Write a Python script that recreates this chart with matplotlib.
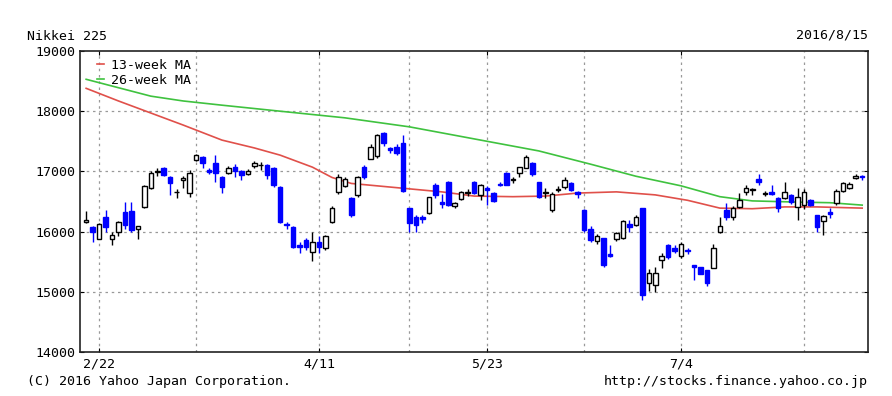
import matplotlib
matplotlib.use("Agg")
import matplotlib.pyplot as plt

# daily candles, Nikkei 225
dates = ["2/18", "2/19", "2/22", "2/23", "2/24", "2/25", "2/26", "2/29",
         "3/1", "3/2", "3/3", "3/4", "3/7", "3/8", "3/9", "3/10", "3/11",
         "3/14", "3/15", "3/16", "3/17", "3/18", "3/22", "3/23", "3/24", "3/25",
         "3/28", "3/29", "3/30", "3/31", "4/1", "4/4", "4/5", "4/6", "4/7", "4/8",
         "4/11", "4/12", "4/13", "4/14", "4/15", "4/18", "4/19", "4/20", "4/21", "4/22",
         "4/25", "4/26", "4/27", "4/28", "5/2", "5/6", "5/9", "5/10", "5/11", "5/12", "5/13",
         "5/16", "5/17", "5/18", "5/19", "5/20", "5/23", "5/24", "5/25", "5/26", "5/27",
         "5/30", "5/31", "6/1", "6/2", "6/3", "6/6", "6/7", "6/8", "6/9", "6/10",
         "6/13", "6/14", "6/15", "6/16", "6/17", "6/20", "6/21", "6/22", "6/23", "6/24",
         "6/27", "6/28", "6/29", "6/30", "7/1", "7/4", "7/5", "7/6", "7/7", "7/8",
         "7/11", "7/12", "7/13", "7/14", "7/15", "7/19", "7/20", "7/21", "7/22",
         "7/25", "7/26", "7/27", "7/28", "7/29", "8/1", "8/2", "8/3", "8/4", "8/5",
         "8/8", "8/9", "8/10", "8/12", "8/15"]
opens = [16160, 16080, 15880, 16240, 15870, 15990, 16330, 16340,
         16040, 16410, 16730, 16990, 17060, 16910, 16650, 16860, 16640,
         17190, 17240, 17030, 17140, 16910, 16970, 17070, 17000, 16960,
         17090, 17100, 17100, 17060, 16740, 16120, 16080, 15770, 15860, 15660,
         15820, 15720, 16160, 16650, 16750, 16560, 16610, 17070, 17210, 17250,
         17640, 17390, 17400, 17470, 16390, 16240, 16240, 16310, 16770, 16500, 16820,
         16420, 16540, 16640, 16820, 16610, 16720, 16640, 16790, 16970, 16850,
         16970, 17060, 17140, 16820, 16640, 16360, 16690, 16740, 16810, 16660,
         16360, 16050, 15850, 15890, 15620, 15870, 15890, 16120, 16110, 16390,
         15150, 15120, 15530, 15780, 15720, 15600, 15700, 15440, 15410, 15360,
         15400, 16000, 16360, 16240, 16410, 16650, 16690, 16880, 16630,
         16660, 16560, 16560, 16610, 16410, 16450, 16520, 16270, 16170, 16330,
         16470, 16670, 16730, 16890, 16920]
highs = [16350, 16100, 16150, 16360, 16000, 16180, 16490, 16490,
         16100, 16770, 17000, 17060, 17080, 16920, 16700, 16930, 17020,
         17290, 17260, 17050, 17270, 16930, 17090, 17120, 17020, 17040,
         17180, 17160, 17130, 17080, 16760, 16160, 16100, 15830, 15900, 15990,
         15920, 15950, 16420, 16950, 16900, 16570, 16930, 17100, 17450, 17620,
         17650, 17410, 17450, 17610, 16400, 16280, 16280, 16580, 16800, 16620, 16840,
         16500, 16680, 16700, 16840, 16790, 16760, 16660, 16820, 16990, 16900,
         17080, 17280, 17150, 16830, 16720, 16650, 16760, 16900, 16820, 16680,
         16370, 16100, 15960, 15900, 15780, 16000, 16200, 16200, 16270, 16400,
         15380, 15420, 15640, 15800, 15780, 15830, 15720, 15450, 15420, 15370,
         15800, 16240, 16470, 16420, 16640, 16780, 16720, 16960, 16680,
         16780, 16570, 16830, 16630, 16720, 16700, 16540, 16280, 16280, 16390,
         16700, 16830, 16820, 16950, 16940]
lows = [16140, 15830, 15870, 16000, 15780, 15930, 16050, 16000,
        15870, 16400, 16700, 16920, 16930, 16610, 16560, 16720, 16580,
        17180, 17060, 16950, 16820, 16640, 16950, 16900, 16850, 16940,
        17050, 17030, 16870, 16740, 16140, 16050, 15720, 15650, 15700, 15510,
        15640, 15700, 16150, 16620, 16740, 16250, 16580, 16880, 17200, 17230,
        17420, 17300, 17280, 16650, 15990, 16000, 16150, 16290, 16550, 16390, 16430,
        16400, 16520, 16590, 16620, 16530, 16440, 16500, 16760, 16770, 16810,
        16900, 17050, 16930, 16550, 16560, 16330, 16650, 16700, 16680, 16550,
        16000, 15830, 15800, 15420, 15580, 15850, 15880, 16000, 16100, 14860,
        15020, 15000, 15400, 15550, 15650, 15560, 15620, 15200, 15290, 15100,
        15390, 15980, 16200, 16200, 16400, 16600, 16600, 16780, 16590,
        16600, 16330, 16540, 16460, 16190, 16380, 16420, 16000, 15940, 16230,
        16450, 16650, 16700, 16870, 16860]
closes = [16200, 15990, 16130, 16080, 15940, 16160, 16110, 16030,
          16090, 16750, 16980, 17010, 16940, 16810, 16660, 16890, 16970,
          17270, 17140, 16990, 16970, 16740, 17060, 17010, 16940, 17010,
          17140, 17110, 16940, 16770, 16160, 16110, 15740, 15740, 15740, 15820,
          15740, 15930, 16400, 16900, 16880, 16280, 16900, 16910, 17400, 17600,
          17470, 17350, 17300, 16670, 16150, 16110, 16210, 16570, 16610, 16460, 16440,
          16480, 16650, 16650, 16640, 16770, 16690, 16510, 16770, 16780, 16870,
          17070, 17240, 16950, 16570, 16660, 16630, 16710, 16850, 16690, 16620,
          16020, 15860, 15920, 15440, 15600, 15970, 16170, 16070, 16240, 14950,
          15310, 15320, 15600, 15580, 15680, 15790, 15670, 15410, 15300, 15150,
          15720, 16100, 16240, 16400, 16520, 16730, 16700, 16820, 16640,
          16620, 16400, 16660, 16490, 16570, 16650, 16440, 16080, 16260, 16290,
          16680, 16800, 16790, 16930, 16900]

# moving averages read at sample dates
ma13_dates = ["2/18", "2/25", "3/3", "3/10", "3/18", "3/28", "4/1", "4/8", "4/13",
              "4/18", "4/22", "5/2", "5/12", "5/19", "5/27", "6/3", "6/10", "6/20",
              "6/28", "7/5", "7/12", "7/20", "7/27", "8/3", "8/15"]
ma13 = [18380, 18170, 17970, 17770, 17520, 17390, 17270, 17070, 16900,
        16800, 16760, 16710, 16660, 16590, 16580, 16590, 16640, 16660,
        16610, 16520, 16390, 16380, 16410, 16410, 16390]
ma26_dates = ["2/18", "2/25", "3/3", "3/10", "3/18", "4/1", "4/15", "5/2", "5/19",
              "6/2", "6/14", "6/23", "7/4", "7/12", "7/20", "7/29", "8/5", "8/15"]
ma26 = [18530, 18390, 18250, 18170, 18100, 18000, 17890, 17740, 17540,
        17340, 17120, 16920, 16760, 16580, 16510, 16490, 16480, 16440]

grid_dates = ["2/22", "3/14", "4/11", "5/2", "5/23", "6/13", "7/4", "8/1"]
label_dates = ["2/22", "4/11", "5/23", "7/4"]
yticks = [14000, 15000, 16000, 17000, 18000, 19000]

MONO = "DejaVu Sans Mono"
BLUE = "#0000ff"

fig = plt.figure(figsize=(8.92, 3.96), dpi=100)
ax = fig.add_axes([80 / 892, 44 / 396, 788 / 892, 301 / 396])

pos = {d: i for i, d in enumerate(dates)}

# grid
for d in grid_dates:
    ax.axvline(pos[d], color="#999999", linestyle=(0, (2, 3)), linewidth=0.9, zorder=0)
for v in yticks[1:-1]:
    ax.axhline(v, color="#999999", linestyle=(0, (2, 3)), linewidth=0.9, zorder=0)

# moving averages
ax.plot([pos[d] for d in ma13_dates], ma13, color="#e0504a", linewidth=1.2,
        label="13-week MA", zorder=2)
ax.plot([pos[d] for d in ma26_dates], ma26, color="#3fc23f", linewidth=1.2,
        label="26-week MA", zorder=2)

# candles
w = 0.7
for i, (o, h, l, c) in enumerate(zip(opens, highs, lows, closes)):
    down = c < o
    col = BLUE if down else "black"
    ax.vlines(i, l, h, color=col, linewidth=1.0, zorder=3)
    bottom = min(o, c)
    height = max(abs(c - o), 6)
    ax.bar(i, height, width=w, bottom=bottom,
           color=BLUE if down else "white",
           edgecolor=col, linewidth=1.0, zorder=4)

ax.set_xlim(-0.95, 120.9)
ax.set_ylim(14000, 19000)
ax.set_yticks(yticks)
ax.set_yticklabels([str(v) for v in yticks], fontfamily=MONO, fontsize=9.5)
ax.set_xticks([pos[d] for d in label_dates])
ax.set_xticklabels(label_dates, fontfamily=MONO, fontsize=9.5)
ax.tick_params(axis="both", direction="in", length=3, width=0.8, pad=3,
               top=True, right=True)
ax.tick_params(axis="x", pad=4)
for s in ax.spines.values():
    s.set_linewidth(1.2)
    s.set_color("#222222")

leg = ax.legend(loc="upper left", frameon=False, handlelength=0.5,
                handletextpad=0.5, borderaxespad=0.2, labelspacing=0.15,
                prop={"family": MONO, "size": 9.5}, bbox_to_anchor=(0.012, 1.0))

fig.text(27 / 892, 1 - 36 / 396, "Nikkei 225", fontfamily=MONO, fontsize=9.5,
         ha="left", va="center")
fig.text(868 / 892, 1 - 35 / 396, "2016/8/15", fontfamily=MONO, fontsize=9.5,
         ha="right", va="center")
fig.text(27 / 892, 1 - 382 / 396, "(C) 2016 Yahoo Japan Corporation.",
         fontfamily=MONO, fontsize=9.5, ha="left", va="center")
fig.text(868 / 892, 1 - 382 / 396, "http://stocks.finance.yahoo.co.jp",
         fontfamily=MONO, fontsize=9.5, ha="right", va="center")

fig.savefig("out.png", dpi=100, facecolor="white")
